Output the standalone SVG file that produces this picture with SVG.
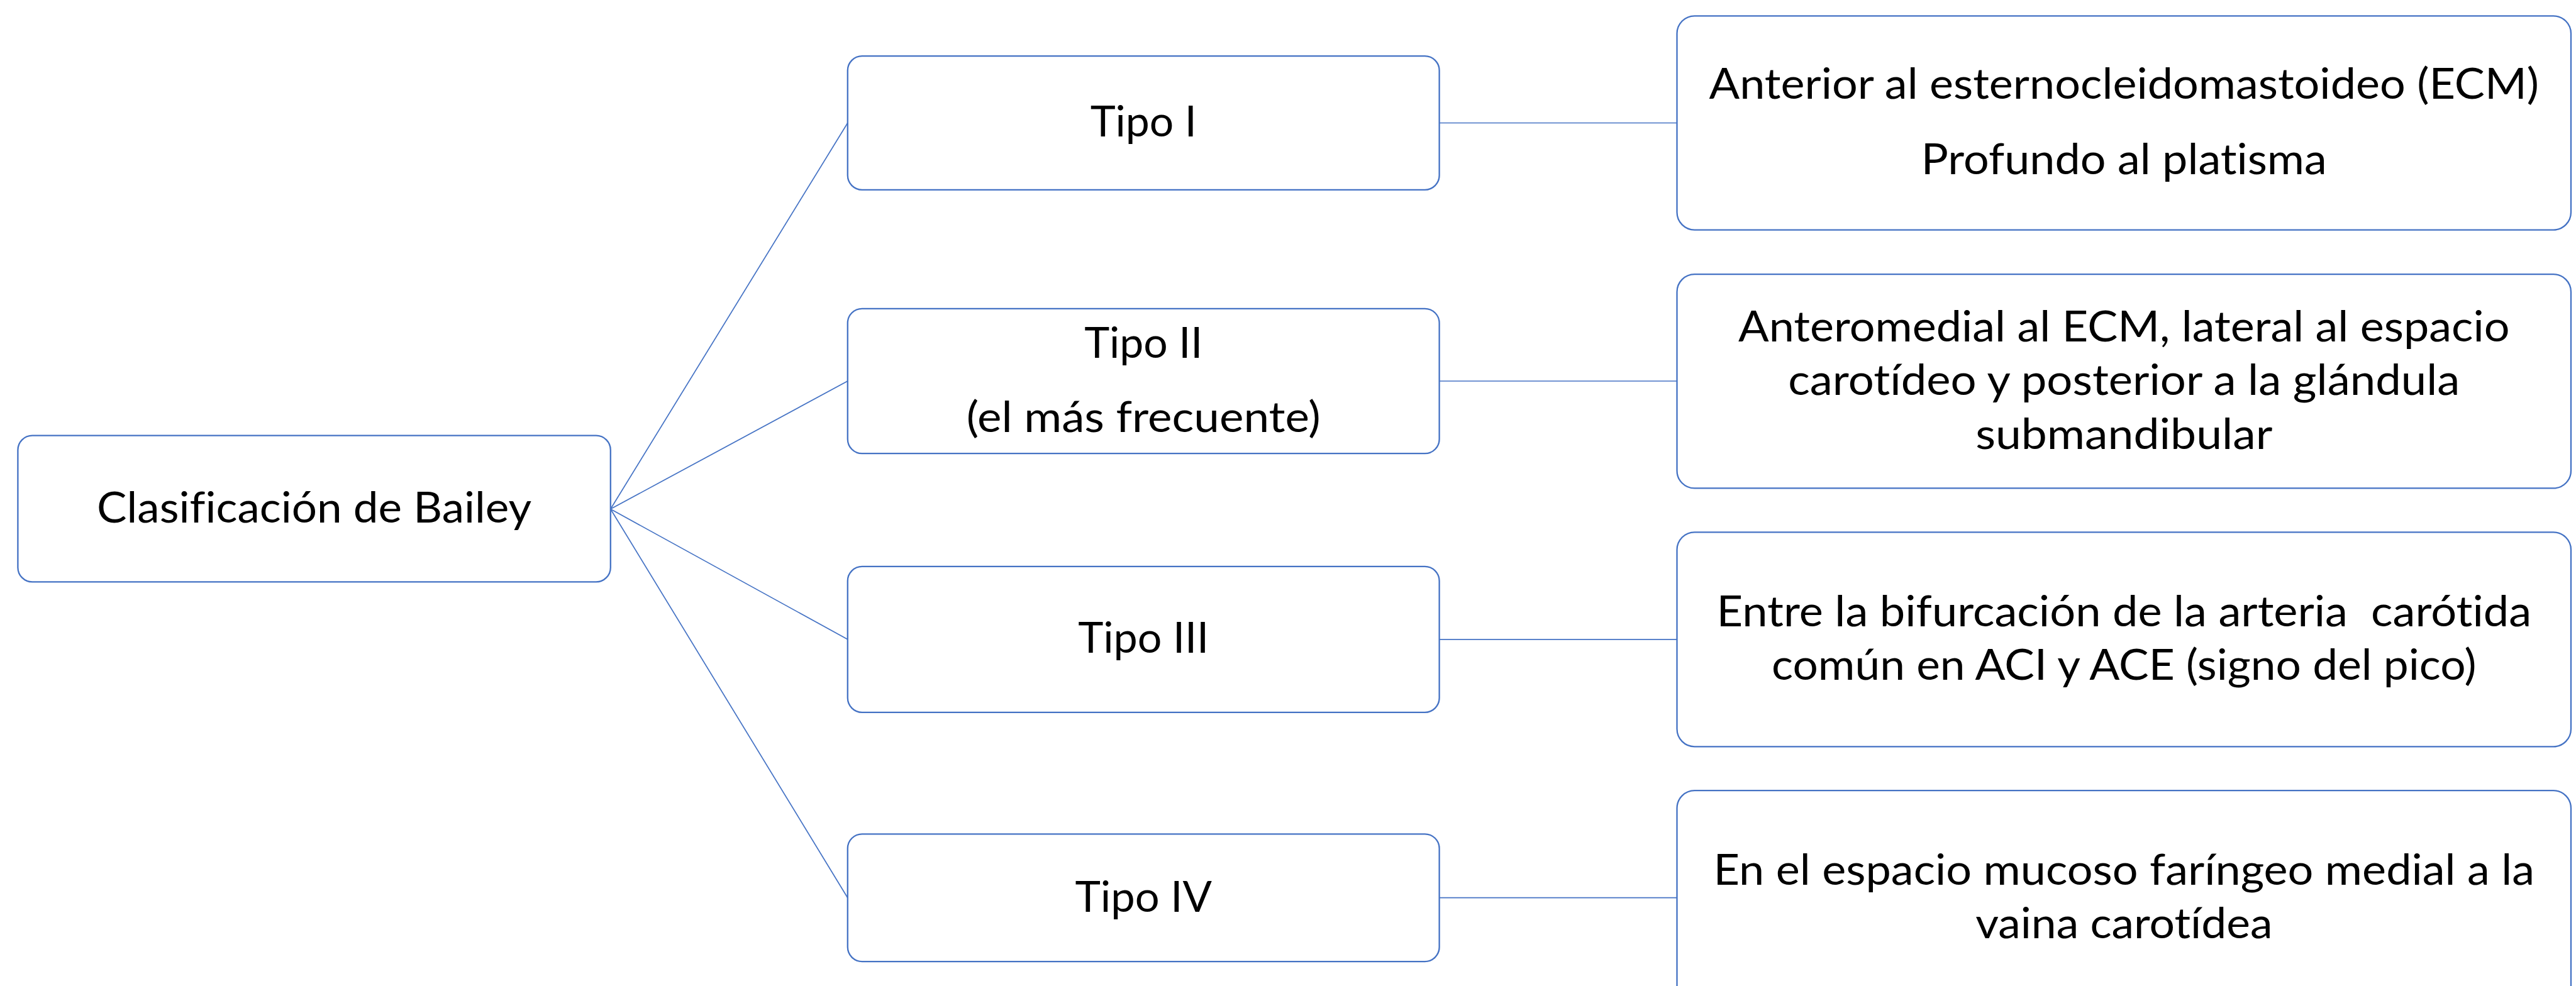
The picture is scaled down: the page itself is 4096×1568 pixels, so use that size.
<svg xmlns="http://www.w3.org/2000/svg" width="4096" height="1568" viewBox="0 0 4096 1568">
<style>
.box{fill:#ffffff;stroke:#4472C4;stroke-width:2.3}
.t{font-family:Lato,"Open Sans","Liberation Sans",sans-serif;font-size:68px;fill:#000000;text-anchor:middle;font-variant-ligatures:none}
.c{stroke:#4472C4;stroke-width:1.7;fill:none}
</style>
<rect x="0" y="0" width="4096" height="1568" fill="#ffffff"/>
<g id="connectors">
<line class="c" x1="970.8" y1="809.5" x2="1347.8" y2="195.5"/>
<line class="c" x1="970.8" y1="809.5" x2="1347.8" y2="606"/>
<line class="c" x1="970.8" y1="809.5" x2="1347.8" y2="1016.8"/>
<line class="c" x1="970.8" y1="809.5" x2="1347.8" y2="1427.7"/>
<line class="c" x1="2288.6" y1="195.5" x2="2666.5" y2="195.5"/>
<line class="c" x1="2288.6" y1="606" x2="2666.5" y2="606"/>
<line class="c" x1="2288.6" y1="1016.8" x2="2666.5" y2="1016.8"/>
<line class="c" x1="2288.6" y1="1427.7" x2="2666.5" y2="1427.7"/>
</g>
<g id="root">
<rect class="box" x="28.4" y="692.7" width="942.4" height="232.7" rx="23" ry="23"/>
<text class="t" x="499.6" y="831" textLength="691" lengthAdjust="spacingAndGlyphs">Clasificación de Bailey</text>
</g>
<g id="tipo1">
<rect class="box" x="1347.8" y="89.1" width="940.8" height="212.7" rx="23" ry="23"/>
<text class="t" x="1818.2" y="217.3" textLength="169" lengthAdjust="spacingAndGlyphs">Tipo I</text>
</g>
<g id="tipo2">
<rect class="box" x="1347.8" y="490.8" width="940.8" height="230.4" rx="23" ry="23"/>
<text class="t" x="1818.2" y="569.1" textLength="188" lengthAdjust="spacingAndGlyphs">Tipo II</text>
<text class="t" x="1818.2" y="687.4" textLength="563" lengthAdjust="spacingAndGlyphs">(el más frecuente)</text>
</g>
<g id="tipo3">
<rect class="box" x="1347.8" y="900.9" width="940.8" height="231.9" rx="23" ry="23"/>
<text class="t" x="1818.2" y="1038.3" textLength="208" lengthAdjust="spacingAndGlyphs">Tipo III</text>
</g>
<g id="tipo4">
<rect class="box" x="1347.8" y="1326.3" width="940.8" height="202.8" rx="23" ry="23"/>
<text class="t" x="1818.2" y="1450" textLength="217.5" lengthAdjust="spacingAndGlyphs">Tipo IV</text>
</g>
<g id="desc1">
<rect class="box" x="2666.5" y="25.3" width="1421.5" height="340.3" rx="28" ry="28"/>
<text class="t" x="3377.3" y="157.4" textLength="1319.4" lengthAdjust="spacingAndGlyphs">Anterior al esternocleidomastoideo (ECM)</text>
<text class="t" x="3377.3" y="276.5" textLength="645" lengthAdjust="spacingAndGlyphs">Profundo al platisma</text>
</g>
<g id="desc2">
<rect class="box" x="2666.5" y="436.2" width="1421.5" height="340.2" rx="28" ry="28"/>
<text class="t" x="3377.3" y="543" textLength="1226.5" lengthAdjust="spacingAndGlyphs">Anteromedial al ECM, lateral al espacio</text>
<text class="t" x="3377.3" y="628.2" textLength="1068.3" lengthAdjust="spacingAndGlyphs">carotídeo y posterior a la glándula</text>
<text class="t" x="3377.3" y="713.5" textLength="472.3" lengthAdjust="spacingAndGlyphs">submandibular</text>
</g>
<g id="desc3">
<rect class="box" x="2666.5" y="846.3" width="1421.5" height="341" rx="28" ry="28"/>
<text class="t" x="3377.3" y="996.1" textLength="1295.6" lengthAdjust="spacingAndGlyphs" style="white-space:pre">Entre la bifurcación de la arteria  carótida</text>
<text class="t" x="3377.3" y="1081.3" textLength="1120.5" lengthAdjust="spacingAndGlyphs">común en ACI y ACE (signo del pico)</text>
</g>
<g id="desc4">
<rect class="box" x="2666.5" y="1257.2" width="1421.5" height="340" rx="28" ry="28"/>
<text class="t" x="3377.3" y="1407" textLength="1305.6" lengthAdjust="spacingAndGlyphs">En el espacio mucoso faríngeo medial a la</text>
<text class="t" x="3377.3" y="1492.2" textLength="472.3" lengthAdjust="spacingAndGlyphs">vaina carotídea</text>
</g>
</svg>
